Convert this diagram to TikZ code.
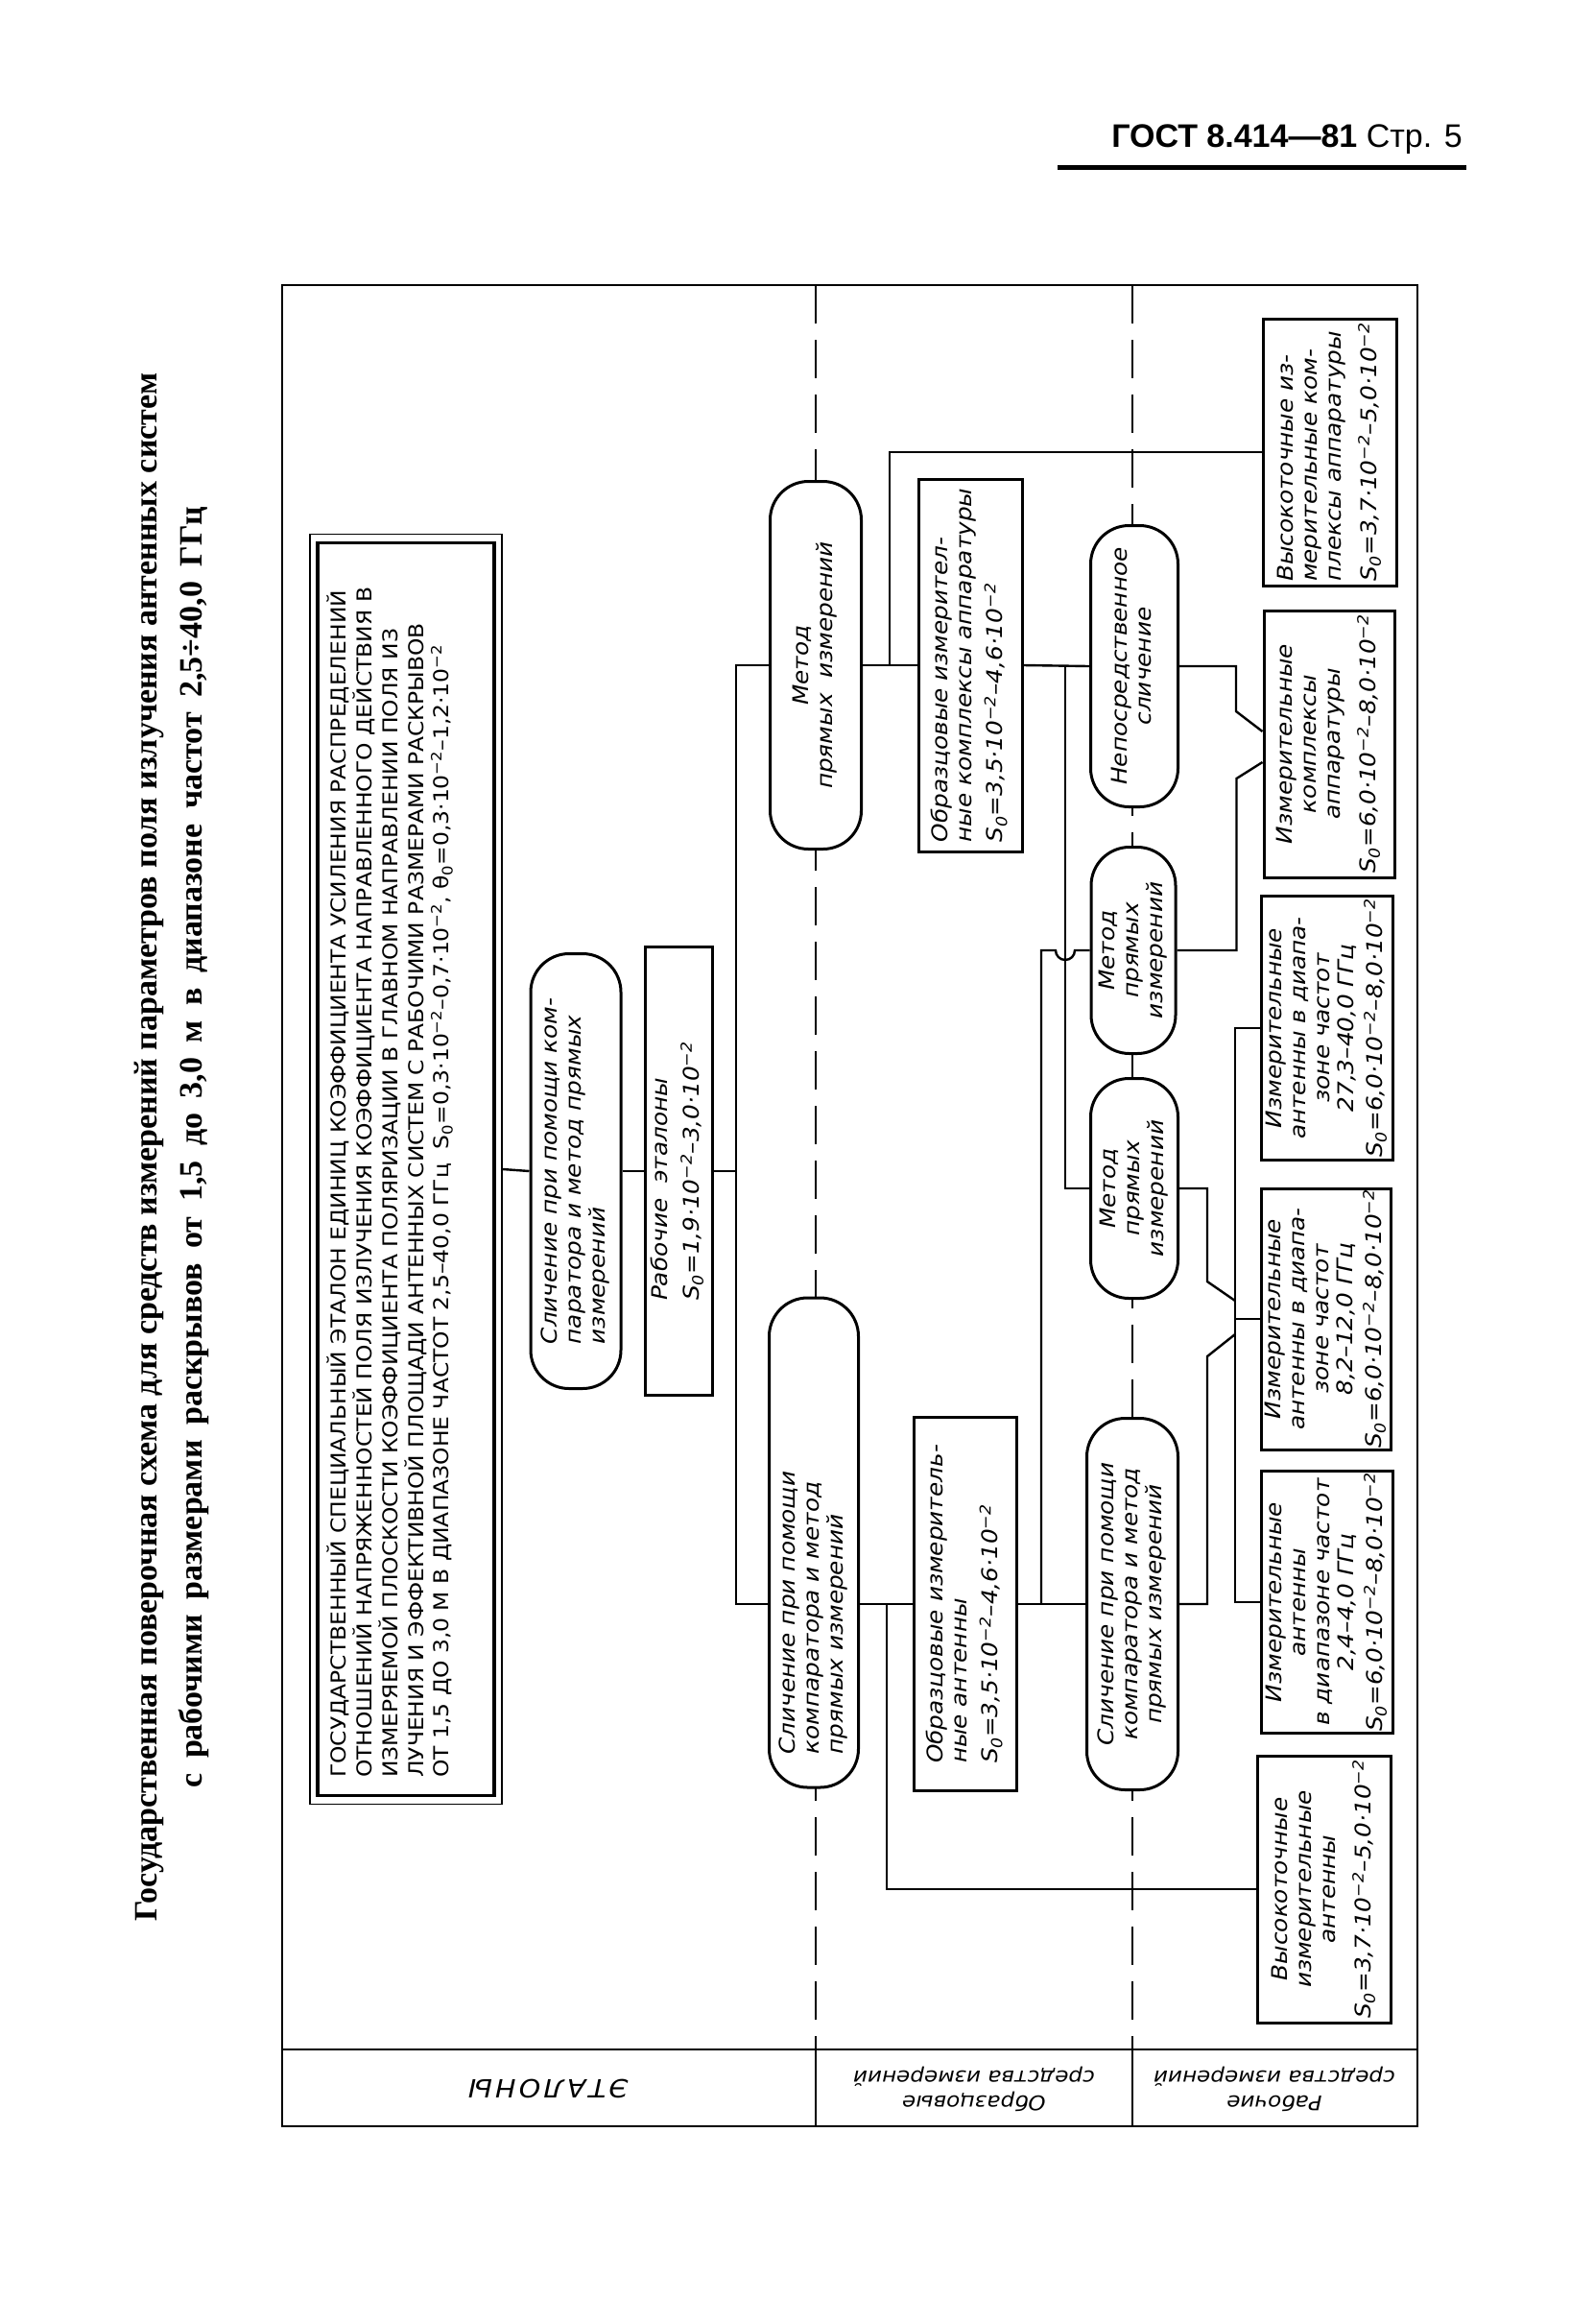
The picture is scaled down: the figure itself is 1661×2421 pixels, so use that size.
\documentclass[tikz,border=0pt]{standalone}
\usepackage{fontspec}
\usepackage{graphicx}
\newfontfamily\gostfont[FakeStretch=1.1]{DejaVu Sans}
\newfontfamily\titlefont{Liberation Serif}
\newfontfamily\headfont{Liberation Sans}
\newcommand{\vtext}[2][c]{\rotatebox{90}{\begin{tabular}{@{}#1@{}}#2\end{tabular}}}
\newcommand{\Sn}{S\textsubscript{0}}
\newcommand{\ten}{·10\textsuperscript{−2}}

\begin{document}
\begin{tikzpicture}[x=1pt, y=-1pt,
  gbox/.style={draw, line width=3pt, fill=white, inner sep=0pt},
  goval/.style={gbox, rounded corners=40pt},
  gtxt/.style={inner sep=0pt, font=\gostfont\itshape\fontsize{22.5}{25}\selectfont},
  glink/.style={line width=2.4pt},
  grim/.style={line width=2.2pt},
  gzone/.style={line width=2.6pt, dash pattern=on 40pt off 17pt}]
\useasboundingbox (0,0) rectangle (1661,2421);

\node[anchor=base east, inner sep=0pt, font=\headfont\fontsize{34}{40}\selectfont] (gost) at (1524,153) {\textbf{ГОСТ 8.414—81} Стр. 5};
\draw[line width=5pt] (1102,174) -- (1528,174);

\node[rotate=90, align=center, inner sep=0pt, font=\titlefont\bfseries\fontsize{34}{47}\selectfont] (title) at (179,1195)
  {Государственная поверочная схема для средств измерений параметров поля излучения антенных систем\\
   \makebox[1335pt][s]{с рабочими размерами раскрывов от 1,5 до 3,0 м в диапазоне частот 2,5÷40,0 ГГц}};

\draw[grim] (294,297) rectangle (1477,2215);
\draw[grim] (294,2135) -- (1477,2135);
\draw[grim] (850,2135) -- (850,2215);
\draw[grim] (1180,2135) -- (1180,2215);
\draw[gzone] (850,297) -- (850,2135);
\draw[gzone] (1180,297) -- (1180,2135);

\node[gtxt, rotate=180, font=\gostfont\itshape\fontsize{26}{30}\selectfont] (etalon) at (572,2176) {\addfontfeature{LetterSpace=12}ЭТАЛОНЫ};
\node[gtxt, rotate=180, align=center, font=\gostfont\itshape\fontsize{21}{26}\selectfont] (refcap) at (1015,2176) {Образцовые\\средства измерений};
\node[gtxt, rotate=180, align=center, font=\gostfont\itshape\fontsize{21}{26}\selectfont] (workcap) at (1328,2176) {Рабочие\\средства измерений};

\node[gbox, line width=1.8pt, minimum width=200pt, minimum height=1323pt] (gseout) at (423,1218) {};
\node[gbox, line width=3.5pt, minimum width=184pt, minimum height=1305pt] (gse) at (423,1218) {};
\node[anchor=south west, inner sep=0pt, font=\gostfont\fontsize{21.3}{24}\selectfont] (gsetext) at (341,1852) {\vtext[l]{%
ГОСУДАРСТВЕННЫЙ СПЕЦИАЛЬНЫЙ ЭТАЛОН ЕДИНИЦ КОЭФФИЦИЕНТА УСИЛЕНИЯ РАСПРЕДЕЛЕНИЙ\\
ОТНОШЕНИЙ НАПРЯЖЕННОСТЕЙ ПОЛЯ ИЗЛУЧЕНИЯ КОЭФФИЦИЕНТА НАПРАВЛЕННОГО ДЕЙСТВИЯ В\\
ИЗМЕРЯЕМОЙ ПЛОСКОСТИ КОЭФФИЦИЕНТА ПОЛЯРИЗАЦИИ В ГЛАВНОМ НАПРАВЛЕНИИ ПОЛЯ ИЗ\\
ЛУЧЕНИЯ И ЭФФЕКТИВНОЙ ПЛОЩАДИ АНТЕННЫХ СИСТЕМ С РАБОЧИМИ РАЗМЕРАМИ РАСКРЫВОВ\\
ОТ 1,5 ДО 3,0 М В ДИАПАЗОНЕ ЧАСТОТ 2,5–40,0 ГГц\ \ \Sn=0,3\ten–0,7\ten, θ\textsubscript{0}=0,3\ten–1,2\ten}};

\node[goval, gtxt, minimum width=94pt, minimum height=453pt] (cmp1) at (600,1220) {\vtext[l]{Сличение при помощи ком-\\паратора и метод прямых\\измерений}};
\node[gbox, gtxt, minimum width=70pt, minimum height=467pt] (work) at (707,1220) {\vtext[l]{Рабочие\ \ эталоны\\[6pt]\Sn=1,9\ten–3,0\ten}};

\node[goval, gtxt, minimum width=95pt, minimum height=383pt] (dir1) at (850,693) {\vtext{Метод\\прямых\ \ измерений}};
\node[goval, minimum width=93pt, minimum height=510pt] (cmp2) at (848,1607) {};
\node[gtxt] (cmp2txt) at (848,1680) {\vtext[l]{Сличение при помощи\\компаратора и метод\\прямых измерений}};
\node[gbox, gtxt, minimum width=108pt, minimum height=388pt] (refkit) at (1011,693) {\vtext[l]{Образцовые измерител-\\ные комплексы аппаратуры\\[6pt]\Sn=3,5\ten–4,6\ten}};
\node[gbox, gtxt, minimum width=107pt, minimum height=389pt] (refant) at (1006,1671) {\vtext[l]{Образцовые измеритель-\\ные антенны\\[6pt]\Sn=3,5\ten–4,6\ten}};

\node[goval, gtxt, minimum width=91pt, minimum height=293pt] (direct) at (1182,694) {\vtext{Непосредственное\\сличение}};
\node[goval, gtxt, minimum width=88pt, minimum height=215pt] (mA) at (1181,990) {\vtext{Метод\\прямых\\измерений}};
\node[goval, gtxt, minimum width=91pt, minimum height=229pt] (mB) at (1182,1238) {\vtext{Метод\\прямых\\измерений}};
\node[goval, gtxt, minimum width=95pt, minimum height=387pt] (cmp3) at (1180,1671) {\vtext{Сличение при помощи\\компаратора и метод\\прямых измерений}};

\node[gbox, gtxt, minimum width=139pt, minimum height=278pt] (hk) at (1386,471) {\vtext[l]{Высокоточные из-\\мерительные ком-\\плексы аппаратуры\\[10pt]\Sn=3,7\ten–5,0\ten}};
\node[gbox, gtxt, minimum width=136pt, minimum height=278pt] (mk) at (1385,775) {\vtext{Измерительные\\комплексы\\аппаратуры\\[10pt]\Sn=6,0\ten–8,0\ten}};
\node[gbox, gtxt, minimum width=137pt, minimum height=275pt] (a40) at (1383,1071) {\vtext{Измерительные\\антенны в диапа-\\зоне частот\\27,3–40,0 ГГц\\[3pt]\Sn=6,0\ten–8,0\ten}};
\node[gbox, gtxt, minimum width=135pt, minimum height=272pt] (a12) at (1382,1374) {\vtext{Измерительные\\антенны в диапа-\\зоне частот\\8,2–12,0 ГГц\\[3pt]\Sn=6,0\ten–8,0\ten}};
\node[gbox, gtxt, minimum width=137pt, minimum height=273pt] (a4) at (1383,1669) {\vtext{Измерительные\\антенны\\в диапазоне частот\\2,4–4,0 ГГц\\[3pt]\Sn=6,0\ten–8,0\ten}};
\node[gbox, gtxt, minimum width=139pt, minimum height=278pt] (hant) at (1380,1968) {\vtext{Высокоточные\\измерительные\\антенны\\[10pt]\Sn=3,7\ten–5,0\ten}};

\coordinate (bus1) at (767,1220);
\coordinate (j1) at (924,1671);
\coordinate (j2) at (1085,1671);
\coordinate (j3) at (927,693);
\coordinate (j4) at (1110,693);
\coordinate (hop) at (1110,990);
\coordinate (bus2) at (1287,1374);

\draw[glink] (gseout.east) -- (cmp1.west);
\draw[glink] (cmp1.east) -- (work.west);
\draw[glink] (work.east) -- (bus1);
\draw[glink] (dir1.west) -| (bus1) |- ([yshift=-64pt]cmp2.west);
\draw[glink] ([yshift=-64pt]cmp2.east) -- (refant.west);
\draw[glink] (j1) |- (hant.west);
\draw[glink] (refant.east) -- (cmp3.west);
\draw[glink] (j2) |- ([xshift=-10pt]hop) arc[start angle=180, end angle=0, radius=10] -- (mA.west);
\draw[glink] (dir1.east) -- (refkit.west);
\draw[glink] (j3) |- (hk.west);
\draw[glink] (refkit.east) -- (direct.west);
\draw[glink] (j4) |- (mB.west);
\draw[glink] (direct.east) -- ++(59,0) -- ++(0,47) -- ([yshift=13pt]mk.west);
\draw[glink] (mA.east) -- ++(62,0) -- ++(0,-179) -- ([yshift=-19pt]mk.west);
\draw[glink] (a40.west) -| (bus2) |- (a4.west);
\draw[glink] (bus2) -- (a12.west);
\draw[glink] (mB.east) -- ++(29,0) -- ++(0,97) -- ([yshift=19pt]bus2);
\draw[glink] (cmp3.east) -- ++(29,0) -- ++(0,-258) -- ([yshift=-16pt]bus2);
\end{tikzpicture}
\end{document}
